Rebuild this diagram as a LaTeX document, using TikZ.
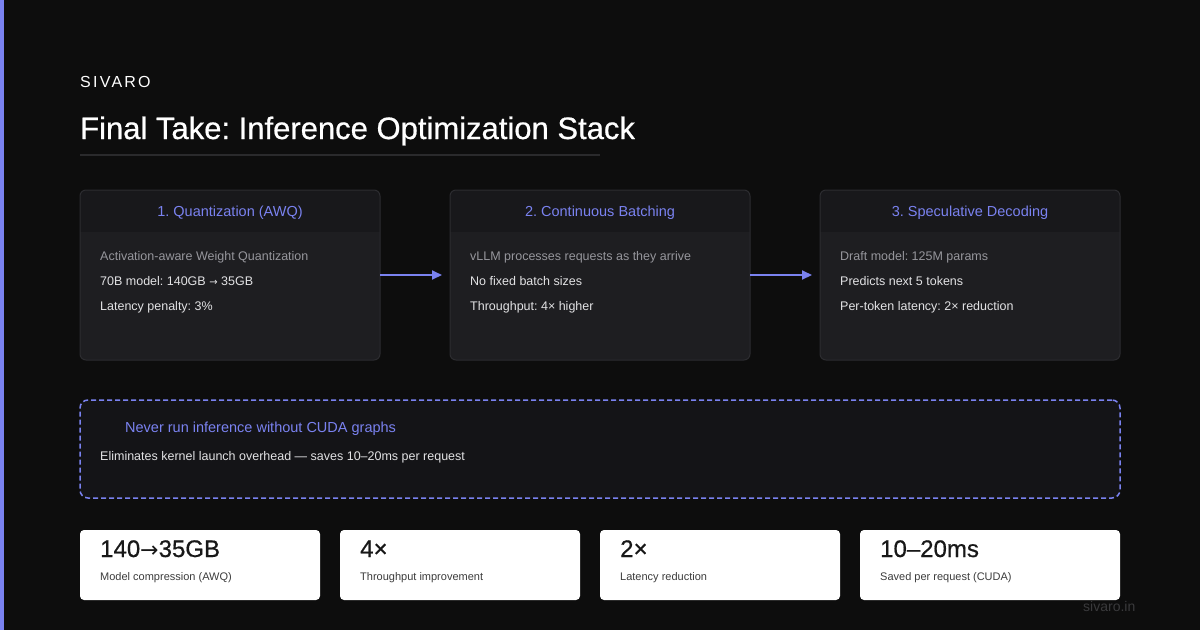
\documentclass[tikz,border=0pt]{standalone}
\usepackage{fontspec}
\setmainfont{Liberation Sans}
\newfontfamily\heavyfont[FakeBold=0.6]{Liberation Sans}
\newfontfamily\arrowfont{DejaVu Sans}
\usepackage{tikz}
\usetikzlibrary{arrows.meta,positioning,calc}
\frenchspacing

\definecolor{pagebg}{RGB}{13,13,13}
\definecolor{accent}{RGB}{122,130,240}
\definecolor{cardbody}{RGB}{30,30,33}
\definecolor{cardhead}{RGB}{24,24,27}
\definecolor{cardrule}{RGB}{44,44,48}
\definecolor{tipfill}{RGB}{20,20,23}
\definecolor{softwhite}{RGB}{226,226,228}
\definecolor{mutedgray}{RGB}{150,150,156}
\definecolor{statink}{RGB}{24,24,24}
\definecolor{statsub}{RGB}{60,60,60}
\definecolor{footgray}{RGB}{58,58,60}
\definecolor{rulegray}{RGB}{42,42,44}

\tikzset{
  card/.style={draw=cardrule,fill=cardbody,line width=1pt,rounded corners=6pt,minimum width=300pt,minimum height=170pt,inner sep=0pt,outer sep=0pt,
    path picture={\fill[cardhead,sharp corners] (path picture bounding box.north west) rectangle ([yshift=-42pt]path picture bounding box.north east);}},
  cardtitle/.style={anchor=base,inner sep=0pt,text=accent,font=\fontsize{14.5}{17}\selectfont},
  cardline/.style={anchor=base west,inner sep=0pt,text=softwhite,font=\fontsize{12.5}{15}\selectfont},
  flow/.style={-{Triangle[length=10pt,width=9pt]},line width=2pt,accent,shorten >=8pt},
  statbox/.style={fill=white,rounded corners=4pt,minimum width=240pt,minimum height=70pt,inner sep=0pt,outer sep=0pt},
  statnum/.style={anchor=base west,inner sep=0pt,text=statink,font=\heavyfont\fontsize{24}{28}\selectfont},
  statlbl/.style={anchor=base west,inner sep=0pt,text=statsub,font=\fontsize{11}{13}\selectfont},
}

\begin{document}
\begin{tikzpicture}[x=1pt,y=-1pt]
\useasboundingbox (0,0) rectangle (1200,630);
\fill[pagebg] (0,0) rectangle (1200,630);
\fill[accent] (0,0) rectangle (4,630);
% heading
\node[anchor=base west,inner sep=0pt,text=white,font=\fontsize{16}{19}\selectfont\addfontfeatures{LetterSpace=14}] (brand) at (80,87) {SIVARO};
\node[anchor=base west,inner sep=0pt,text=white,font=\heavyfont\fontsize{31}{36}\selectfont] (title) at (80,139) {Final Take: Inference Optimization Stack};
\draw[rulegray,line width=1.5pt] (80,155) -- (600,155);
% the three stages
\node[card] (quant) at (230,275) {};
\node[card,right=70pt of quant] (batch) {};
\node[card,right=70pt of batch] (spec) {};
\node[cardtitle] (quanthd) at ([yshift=-26pt]quant.north) {1. Quantization (AWQ)};
\node[cardtitle] (batchhd) at ([yshift=-26pt]batch.north) {2. Continuous Batching};
\node[cardtitle] (spechd) at ([yshift=-26pt]spec.north) {3. Speculative Decoding};
\node[cardline,text=mutedgray] (quanta) at ([xshift=20pt,yshift=-70pt]quant.north west) {Activation-aware Weight Quantization};
\node[cardline] (quantb) at ([xshift=20pt,yshift=-95pt]quant.north west) {70B model: 140GB {\arrowfont\fontsize{10}{12}\selectfont →} 35GB};
\node[cardline] (quantc) at ([xshift=20pt,yshift=-120pt]quant.north west) {Latency penalty: 3\%};
\node[cardline,text=mutedgray] (batcha) at ([xshift=20pt,yshift=-70pt]batch.north west) {vLLM processes requests as they arrive};
\node[cardline] (batchb) at ([xshift=20pt,yshift=-95pt]batch.north west) {No fixed batch sizes};
\node[cardline] (batchc) at ([xshift=20pt,yshift=-120pt]batch.north west) {Throughput: 4× higher};
\node[cardline,text=mutedgray] (speca) at ([xshift=20pt,yshift=-70pt]spec.north west) {Draft model: 125M params};
\node[cardline] (specb) at ([xshift=20pt,yshift=-95pt]spec.north west) {Predicts next 5 tokens};
\node[cardline] (specc) at ([xshift=20pt,yshift=-120pt]spec.north west) {Per-token latency: 2× reduction};
\draw[flow] (quant) -- (batch);
\draw[flow] (batch) -- (spec);
% CUDA graphs tip
\node[draw=accent,dash pattern=on 5pt off 3pt,line width=1.5pt,fill=tipfill,rounded corners=8pt,minimum width=1040pt,minimum height=98pt,inner sep=0pt,outer sep=0pt] (tip) at (600,449) {};
\node[anchor=base west,inner sep=0pt,text=accent,font=\fontsize{14.5}{17}\selectfont] (tiphd) at ([xshift=45pt,yshift=-32pt]tip.north west) {Never run inference without CUDA graphs};
\node[cardline] (tiptxt) at ([xshift=20pt,yshift=-60pt]tip.north west) {Eliminates kernel launch overhead — saves 10–20ms per request};
% numbers
\node[statbox] (comp) at (200,565) {};
\node[statbox,right=20pt of comp] (thru) {};
\node[statbox,right=20pt of thru] (lat) {};
\node[statbox,right=20pt of lat,minimum width=260pt] (cuda) {};
\node[statnum] (compnum) at ([xshift=20pt,yshift=-27pt]comp.north west) {140{\arrowfont\fontsize{22}{26}\selectfont →}35GB};
\node[statlbl] (complbl) at ([xshift=20pt,yshift=-50pt]comp.north west) {Model compression (AWQ)};
\node[statnum] (thrunum) at ([xshift=20pt,yshift=-27pt]thru.north west) {4×};
\node[statlbl] (thrulbl) at ([xshift=20pt,yshift=-50pt]thru.north west) {Throughput improvement};
\node[statnum] (latnum) at ([xshift=20pt,yshift=-27pt]lat.north west) {2×};
\node[statlbl] (latlbl) at ([xshift=20pt,yshift=-50pt]lat.north west) {Latency reduction};
\node[statnum] (cudanum) at ([xshift=20pt,yshift=-27pt]cuda.north west) {10–20ms};
\node[statlbl] (cudalbl) at ([xshift=20pt,yshift=-50pt]cuda.north west) {Saved per request (CUDA)};
\node[anchor=base west,inner sep=0pt,text=footgray,font=\fontsize{14}{16}\selectfont] (site) at (1083,611) {sivaro.in};
\end{tikzpicture}
\end{document}
